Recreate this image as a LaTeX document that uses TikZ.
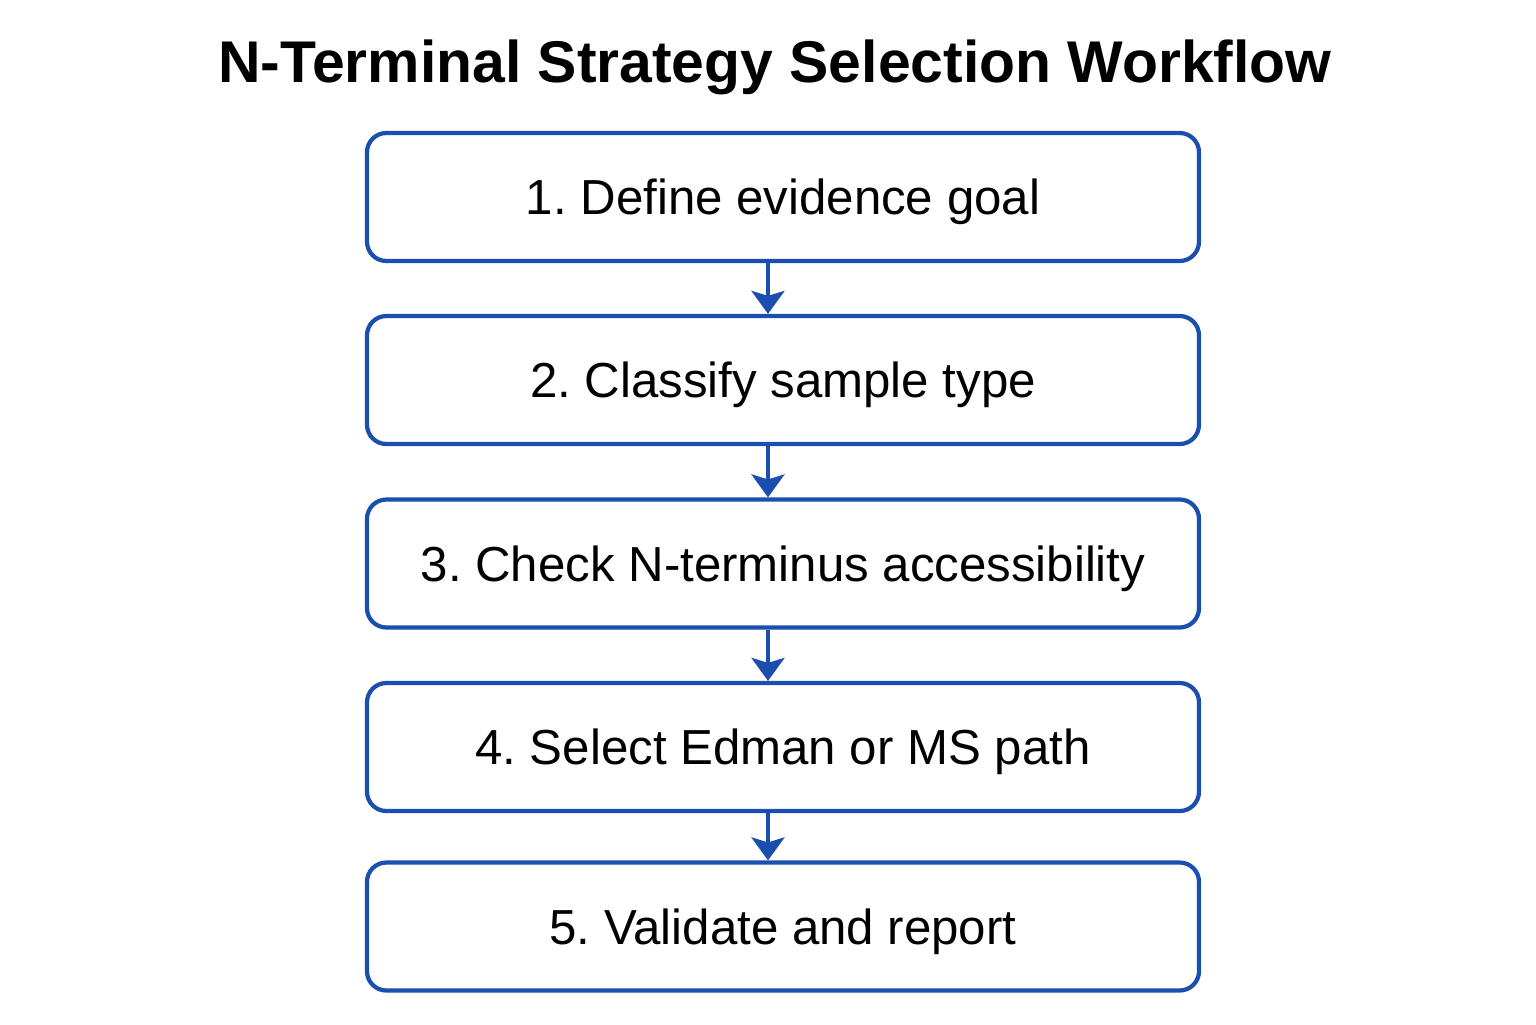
\documentclass[tikz,border=0pt]{standalone}
\usepackage{fontspec}
\setmainfont{Liberation Sans}
\usepackage{xcolor}
\usetikzlibrary{arrows.meta,positioning,calc}
\definecolor{flowblue}{HTML}{1A4FB0}
\frenchspacing
\newcommand{\steptext}[1]{\raisebox{-0.1cm}[\height][\depth]{#1}}

\begin{document}
\begin{tikzpicture}[
  stepbox/.style={rectangle,draw=flowblue,line width=2.4pt,fill=white,
                  rounded corners=11pt,
                  minimum width=16.64cm,minimum height=2.56cm,
                  align=center,font=\fontsize{28}{32}\selectfont},
  ttl/.style={font=\fontsize{33.5}{38}\selectfont\bfseries},
  arrow/.style={-{Stealth[length=0.46cm,width=0.66cm,inset=0.1cm]},line width=2.2pt,draw=flowblue},
  >=Stealth
]
\useasboundingbox (0,0) rectangle (30.72,-20.48);

\node[ttl] (title) at (15.5,-1.34) {N-Terminal Strategy Selection Workflow};

\node[stepbox] (goal)   at (15.66,-3.94)  {\steptext{1. Define evidence goal}};
\node[stepbox] (sample) at (15.66,-7.60)  {\steptext{2. Classify sample type}};
\node[stepbox] (access) at (15.66,-11.27) {\steptext{3. Check N-terminus accessibility}};
\node[stepbox] (path)   at (15.66,-14.94) {\steptext{4. Select Edman or MS path}};
\node[stepbox] (report) at (15.66,-18.53) {\steptext{5. Validate and report}};

\draw[arrow] ([xshift=-0.3cm]goal.south)   -- ([xshift=-0.3cm]sample.north);
\draw[arrow] ([xshift=-0.3cm]sample.south) -- ([xshift=-0.3cm]access.north);
\draw[arrow] ([xshift=-0.3cm]access.south) -- ([xshift=-0.3cm]path.north);
\draw[arrow] ([xshift=-0.3cm]path.south)   -- ([xshift=-0.3cm]report.north);
\end{tikzpicture}
\end{document}
